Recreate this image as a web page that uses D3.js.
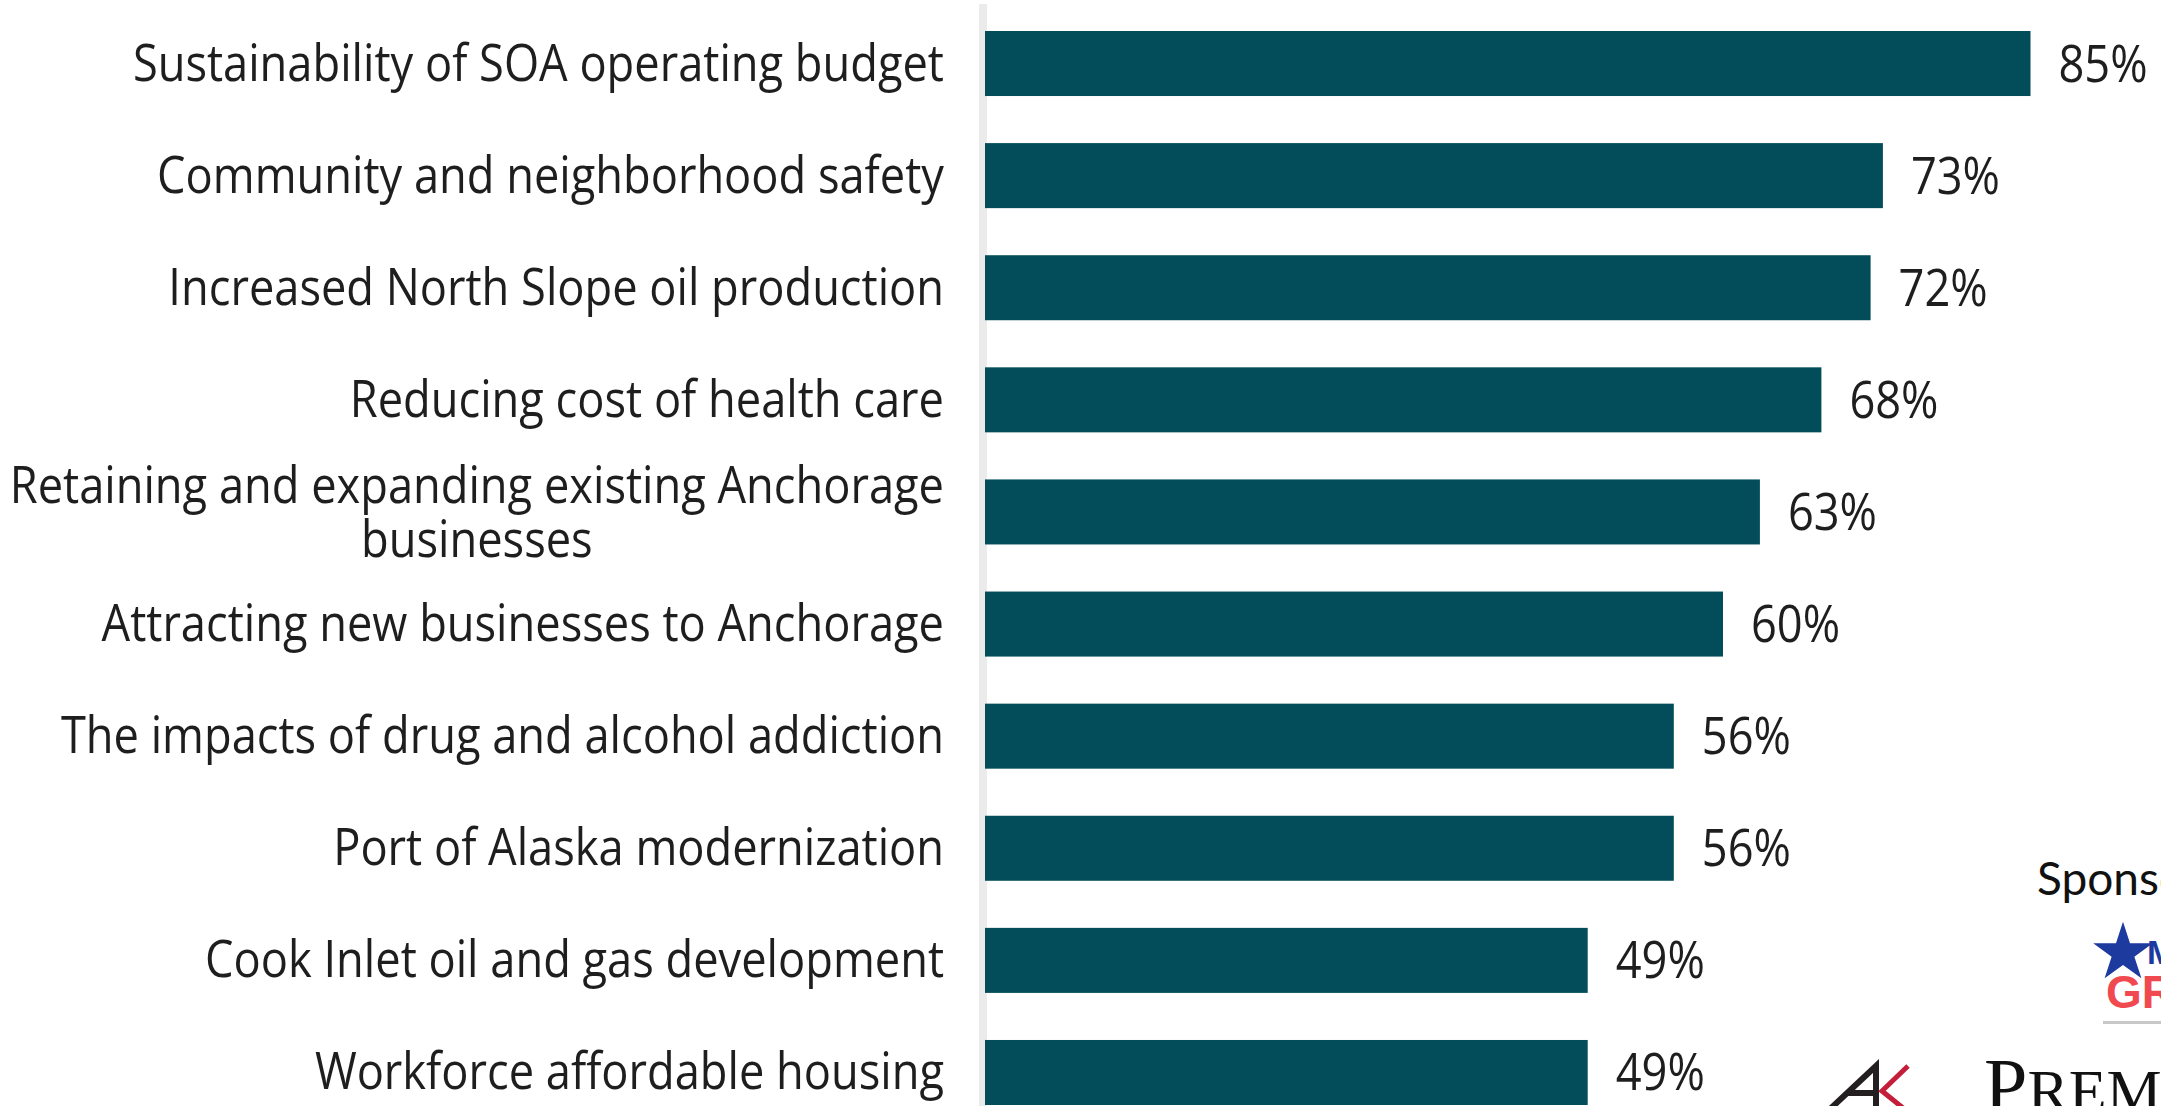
<!DOCTYPE html>
<html>
<head>
<meta charset="utf-8">
<script src="https://cdn.jsdelivr.net/npm/d3@7"></script>
<style>
  html, body { margin: 0; padding: 0; background: #fff; overflow: hidden; }
  svg { display: block; }
</style>
</head>
<body>
<svg id="chart"></svg>
<script>
// chart values
const categories = [
    "Sustainability of SOA operating budget",
    "Community and neighborhood safety",
    "Increased North Slope oil production",
    "Reducing cost of health care",
    "Retaining and expanding existing Anchorage\nbusinesses",
    "Attracting new businesses to Anchorage",
    "The impacts of drug and alcohol addiction",
    "Port of Alaska modernization",
    "Cook Inlet oil and gas development",
    "Workforce affordable housing"
];
const values = [85, 73, 72, 68, 63, 60, 56, 56, 49, 49];
const sponsorTitle = "Sponsored by:";

const width = 2161;
const height = 1106;
const barColor = '#034d5a';
const textColor = '#1e1e1e';
const squeeze = 0.87; // the labels in the picture are narrow

const svg = d3.select('#chart')
    .attr('width', width)
    .attr('height', height);

const x = d3.scaleLinear()
    .domain([0, 100])
    .range([985, 2215]);

const y = d3.scaleBand()
    .domain(categories)
    .range([31, 1105])
    .paddingInner(0.42)
    .paddingOuter(0);

// vertical axis line
svg.append('rect')
    .attr('x', 979)
    .attr('y', 4)
    .attr('width', 8)
    .attr('height', height - 4)
    .attr('fill', '#ebebeb');

svg.append('g')
    .selectAll('rect')
    .data(values)
    .join('rect')
    .attr('x', x(0))
    .attr('y', (d, i) => y(categories[i]))
    .attr('width', d => x(d) - x(0))
    .attr('height', y.bandwidth())
    .attr('fill', barColor);

const font = "'Open Sans', 'Noto Sans', sans-serif";

// category labels
const labels = svg.append('g')
    .attr('font-family', font)
    .attr('font-size', 52)
    .attr('font-weight', 500)
    .attr('fill', textColor);

categories.forEach((cat, i) => {
    const cy = y(cat) + y.bandwidth() / 2;
    const lines = cat.split('\n');
    const t = labels.append('text')
        .attr('text-anchor', 'end');
    if (lines.length === 1) {
        t.attr('transform', `translate(944,${cy + 17}) scale(${squeeze},1)`)
            .text(cat);
    } else {
        // wrapped label: second line centred under the first
        t.attr('transform', `translate(944,${cy - 9}) scale(${squeeze},1)`)
            .text(lines[0]);
        const w = t.node().getComputedTextLength();
        labels.append('text')
            .attr('text-anchor', 'middle')
            .attr('transform', `translate(${944 - w * squeeze / 2},${cy + 45}) scale(${squeeze},1)`)
            .text(lines[1]);
    }
});

// value labels
svg.append('g')
    .attr('font-family', font)
    .attr('font-size', 52)
    .attr('font-weight', 500)
    .attr('fill', textColor)
    .selectAll('text')
    .data(values)
    .join('text')
    .attr('transform', (d, i) => `translate(${x(d) + 28},${y(categories[i]) + y.bandwidth() / 2 + 18}) scale(${squeeze},1)`)
    .text(d => d + '%');

// sponsor block, cut by the right edge as in the picture
const sponsors = svg.append('g');

sponsors.append('text')
    .attr('x', 2037)
    .attr('y', 895)
    .attr('font-family', "Lato, 'Open Sans', sans-serif")
    .attr('font-size', 46)
    .attr('fill', '#111')
    .text(sponsorTitle);

sponsors.append('path')
    .attr('d', d3.symbol(d3.symbolStar).size(1100)())
    .attr('transform', 'translate(2123,953)')
    .attr('fill', '#1d3a9e');

sponsors.append('text')
    .attr('x', 2147)
    .attr('y', 964)
    .attr('font-family', "'Liberation Sans', Arial, sans-serif")
    .attr('font-weight', 'bold')
    .attr('font-size', 34)
    .attr('fill', '#1d3a9e')
    .text('MERICAN');

sponsors.append('text')
    .attr('x', 2106)
    .attr('y', 1008)
    .attr('font-family', "'Liberation Sans', Arial, sans-serif")
    .attr('font-weight', 'bold')
    .attr('font-size', 46)
    .attr('fill', '#f04a50')
    .text('GROUP');

sponsors.append('rect')
    .attr('x', 2103)
    .attr('y', 1021)
    .attr('width', 60)
    .attr('height', 3)
    .attr('fill', '#c8c8c8');

// AK mark
sponsors.append('path')
    .attr('d', 'M1829,1110 L1876,1066 L1876,1110 M1846,1093 L1876,1093')
    .attr('fill', 'none')
    .attr('stroke', '#231f20')
    .attr('stroke-width', 6);
sponsors.append('path')
    .attr('d', 'M1908,1066 L1882,1091 L1908,1112')
    .attr('fill', 'none')
    .attr('stroke', '#c41e3a')
    .attr('stroke-width', 5);

const premera = sponsors.append('text')
    .attr('x', 1984)
    .attr('y', 1112)
    .attr('font-family', "'Liberation Serif', 'DejaVu Serif', serif")
    .attr('fill', '#111');
premera.append('tspan').attr('font-size', 78).text('P');
premera.append('tspan').attr('font-size', 62).text('REMERA');
</script>
</body>
</html>
